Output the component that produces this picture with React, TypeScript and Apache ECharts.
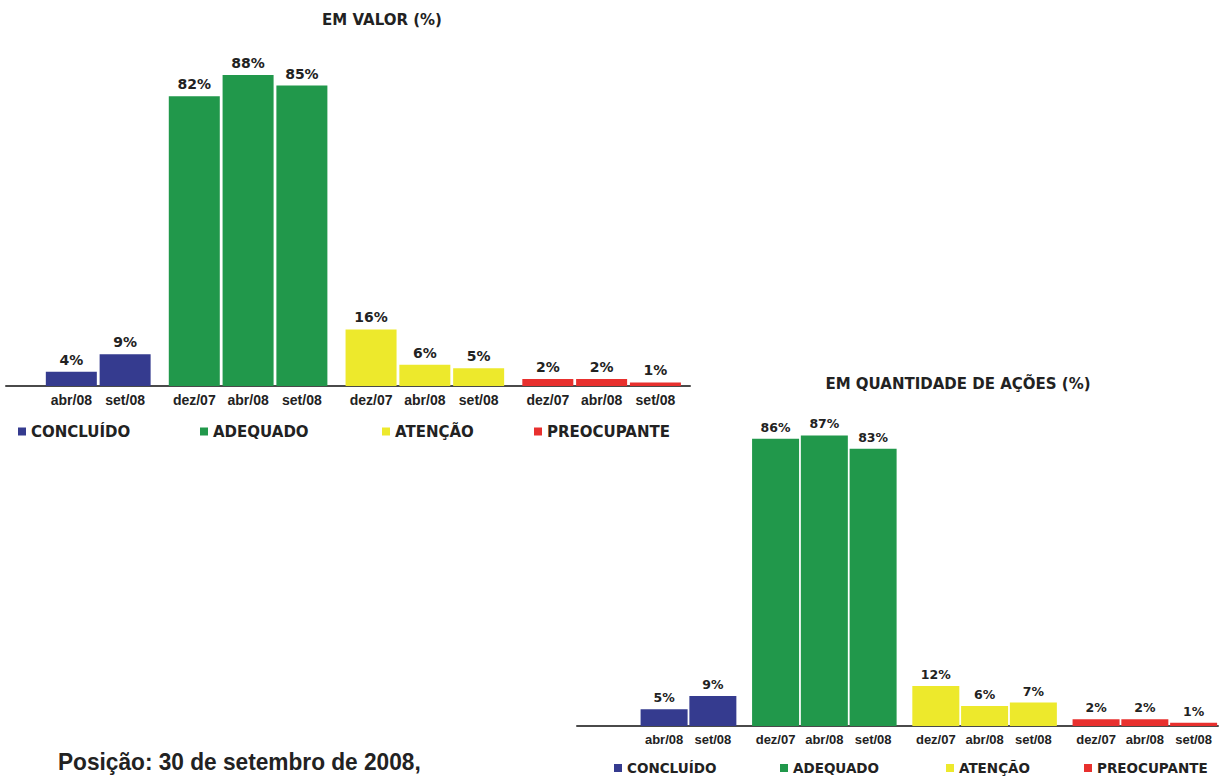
import React, { useEffect, useRef } from "react";
import * as echarts from "echarts";

const GROUP_NAMES = ["CONCLUÍDO", "ADEQUADO", "ATENÇÃO", "PREOCUPANTE"];
const GROUP_COLORS = ["#353b8f", "#21984b", "#ede92c", "#e8302e"];

const CONCLUIDO_PERIODS = ["abr/08", "set/08"];
const OTHER_PERIODS = ["dez/07", "abr/08", "set/08"];

const valorConcluido = [4, 9];
const valorAdequado = [82, 88, 85];
const valorAtencao = [16, 6, 5];
const valorPreocupante = [2, 2, 1];

const qtdConcluido = [5, 9];
const qtdAdequado = [86, 87, 83];
const qtdAtencao = [12, 6, 7];
const qtdPreocupante = [2, 2, 1];

const TITLE_VALOR = "EM VALOR (%)";
const TITLE_QTD = "EM QUANTIDADE DE AÇÕES (%)";
const FOOTNOTE = "Posição: 30 de setembro de 2008,";

const SLOT = 7;
const GAP = 2;
const MID = 3;

function buildAxis(
  periods: string[][],
  values: number[][],
  lead: number,
  trail: number
) {
  const categories: string[] = [];
  for (let i = 0; i < lead; i++) categories.push("");
  const positions: { g: number; idx: number; v: number }[] = [];
  periods.forEach((ps, g) => {
    if (g > 0) for (let i = 0; i < GAP; i++) categories.push("");
    ps.forEach((p, j) => {
      for (let k = 0; k < SLOT; k++) {
        if (k === MID) {
          positions.push({ g, idx: categories.length, v: values[g][j] });
          categories.push(p);
        } else categories.push("");
      }
    });
  });
  for (let i = 0; i < trail; i++) categories.push("");
  const seriesData = periods.map((_, g) => {
    const arr: (number | string)[] = categories.map(() => "-");
    positions.filter((p) => p.g === g).forEach((p) => (arr[p.idx] = p.v));
    return arr;
  });
  return { categories, seriesData };
}

const PERIODS = [CONCLUIDO_PERIODS, OTHER_PERIODS, OTHER_PERIODS, OTHER_PERIODS];

export default function App() {
  const ref = useRef<HTMLDivElement>(null);
  useEffect(() => {
    if (!ref.current) return;
    const chart = echarts.init(ref.current, undefined, { renderer: "svg" });

    const c1 = buildAxis(
      PERIODS,
      [valorConcluido, valorAdequado, valorAtencao, valorPreocupante],
      5,
      1
    );
    const c2 = buildAxis(
      PERIODS,
      [qtdConcluido, qtdAdequado, qtdAtencao, qtdPreocupante],
      9,
      0
    );

    const VALUE_FONT = "DejaVu Sans";
    const AXIS_FONT = "Liberation Sans";

    const mkX = (cats: string[], gridIndex: number, fontSize: number, margin: number) => ({
      type: "category",
      gridIndex,
      data: cats,
      axisTick: { show: false },
      axisLine: { show: true, lineStyle: { color: "#4a4a4a", width: 2 } },
      axisLabel: {
        interval: 0,
        margin,
        fontFamily: AXIS_FONT,
        fontWeight: "bold",
        fontSize,
        color: "#222",
      },
      splitLine: { show: false },
    });
    const mkY = (gridIndex: number) => ({
      type: "value",
      gridIndex,
      min: 0,
      max: 100,
      show: false,
      splitLine: { show: false },
    });

    const series: any[] = [];
    [c1, c2].forEach((c, ci) => {
      c.seriesData.forEach((d, g) => {
        series.push({
          type: "bar",
          name: GROUP_NAMES[g],
          xAxisIndex: ci,
          yAxisIndex: ci,
          data: d,
          barWidth: ci === 0 ? 51 : 47,
          barGap: "-100%",
          itemStyle: { color: GROUP_COLORS[g] },
          label: {
            show: true,
            position: "top",
            distance: 5,
            formatter: "{c}%",
            fontFamily: VALUE_FONT,
            fontWeight: "bold",
            fontSize: ci === 0 ? 14 : 12.5,
            color: "#222",
          },
        });
      });
    });

    const legendPos1 = [18, 200, 382, 534];
    const legendPos2 = [614, 780, 946, 1084];
    const legends: any[] = [];
    GROUP_NAMES.forEach((n, g) => {
      legends.push({
        data: [n],
        left: legendPos1[g],
        top: 424,
        padding: 0,
        itemWidth: 8,
        itemHeight: 8,
        itemGap: 5,
        icon: "rect",
        selectedMode: false,
        textStyle: { fontFamily: VALUE_FONT, fontWeight: "bold", fontSize: 15, color: "#222" },
      });
      legends.push({
        data: [n],
        left: legendPos2[g],
        top: 761,
        padding: 0,
        itemWidth: 8,
        itemHeight: 8,
        itemGap: 5,
        icon: "rect",
        selectedMode: false,
        textStyle: { fontFamily: VALUE_FONT, fontWeight: "bold", fontSize: 13.5, color: "#222" },
      });
    });

    chart.setOption({
      animation: false,
      backgroundColor: "#ffffff",
      grid: [
        { left: 6, right: 537, top: 32.6, bottom: 390, containLabel: false },
        { left: 577, right: 9, top: 392, bottom: 50, containLabel: false },
      ],
      xAxis: [mkX(c1.categories, 0, 14, 7), mkX(c2.categories, 1, 13, 7)],
      yAxis: [mkY(0), mkY(1)],
      legend: legends,
      series,
      graphic: [
        {
          type: "text",
          x: 382,
          y: 20,
          style: {
            text: TITLE_VALOR,
            font: `bold 15px "${VALUE_FONT}"`,
            fill: "#222",
            align: "center",
            verticalAlign: "middle",
            textAlign: "center",
            textVerticalAlign: "middle",
          },
        },
        {
          type: "text",
          x: 958,
          y: 384,
          style: {
            text: TITLE_QTD,
            font: `bold 15px "${VALUE_FONT}"`,
            fill: "#222",
            align: "center",
            verticalAlign: "middle",
            textAlign: "center",
            textVerticalAlign: "middle",
          },
        },
        {
          type: "text",
          x: 58,
          y: 762,
          scaleX: 0.945,
          style: {
            text: FOOTNOTE,
            font: `bold 24px "${AXIS_FONT}"`,
            fill: "#222",
            align: "left",
            verticalAlign: "middle",
            textAlign: "left",
            textVerticalAlign: "middle",
          },
        },
      ],
    });
    return () => chart.dispose();
  }, []);
  return (
    <div
      ref={ref}
      style={{ position: "absolute", left: 0, top: 0, width: 1227, height: 776, background: "#fff" }}
    />
  );
}
